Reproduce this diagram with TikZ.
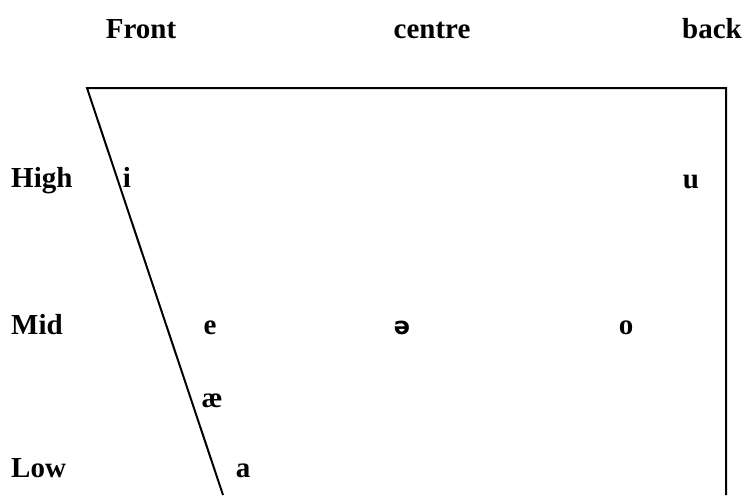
\documentclass[tikz,border=0pt]{standalone}
\usepackage{fontspec}
\setmainfont{Liberation Serif}
\newfontfamily\ipafont{DejaVu Sans}
\begin{document}
\begin{tikzpicture}[x=1pt,y=-1pt,
  lbl/.style={font=\fontsize{29}{32}\selectfont\bfseries, inner sep=0pt, anchor=base},
  side/.style={lbl, anchor=base west},
  edge/.style={line width=2pt}]
\useasboundingbox (0,0) rectangle (746,495);
\coordinate (tl) at (87,88);
\coordinate (tr) at (726,88);
\coordinate (br) at (726,495);
\coordinate (bl) at (223,495);
\draw[edge, line join=miter] (bl) -- (tl) -- (tr) -- (br);
\node[lbl] (front) at (141,38) {Front};
\node[lbl] (centre) at (432,38) {centre};
\node[lbl] (back) at (712,38) {back};
\node[side] (high) at (11,187) {High};
\node[side] (mid) at (11,334) {Mid};
\node[side] (low) at (11,477) {Low};
\node[lbl] (i) at (127,187) {i};
\node[lbl] (u) at (691,188) {u};
\node[lbl] (e) at (210,334) {e};
\node[lbl, font=\ipafont\fontsize{24}{28}\selectfont\bfseries] (schwa) at (402,334) {ə};
\node[lbl] (o) at (626,334) {o};
\node[lbl] (ae) at (212,407) {æ};
\node[lbl] (a) at (243,477) {a};
\end{tikzpicture}
\end{document}
